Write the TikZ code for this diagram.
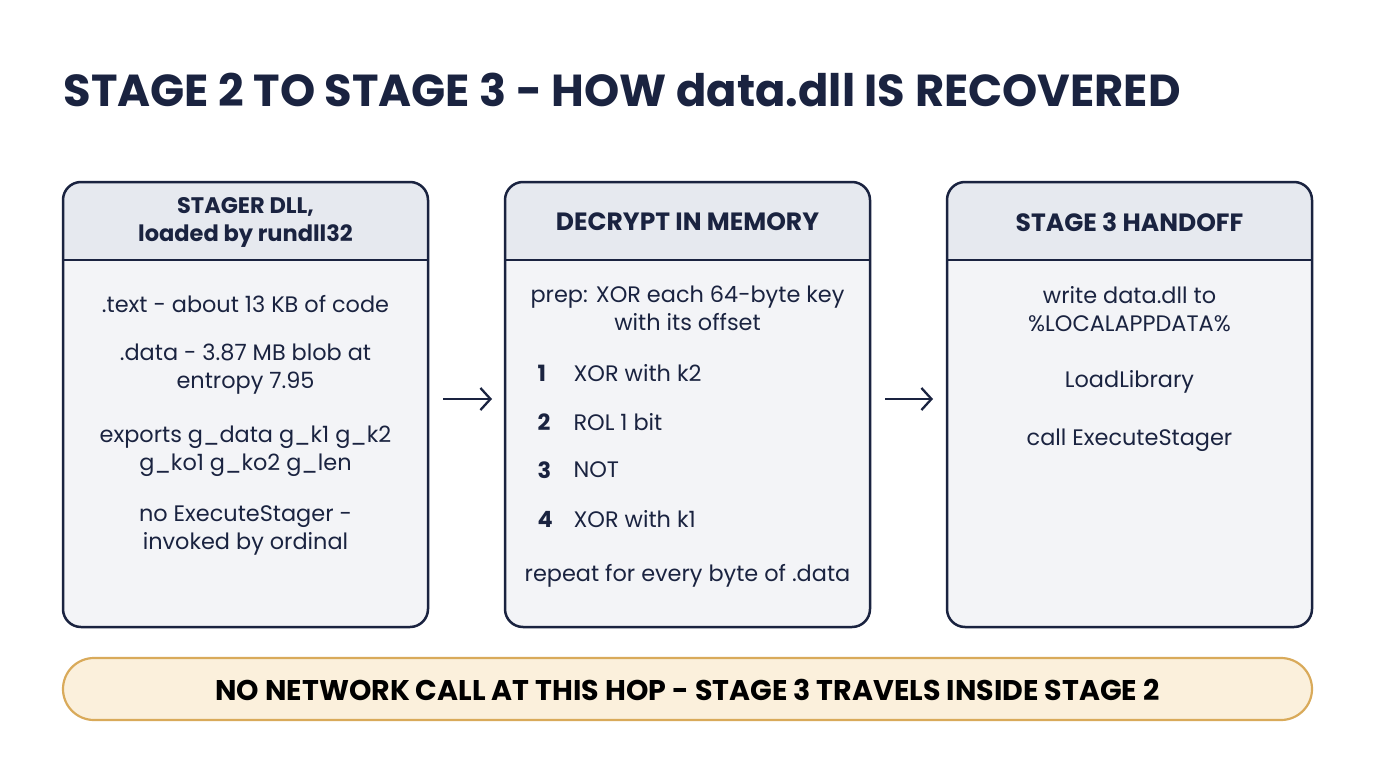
\documentclass[tikz,border=0pt]{standalone}
\usepackage{fontspec}
\setmainfont{Poppins}
\usetikzlibrary{arrows.meta}
\definecolor{navy}{HTML}{1A2340}
\definecolor{hdr}{HTML}{E6E9EF}
\definecolor{bod}{HTML}{F3F4F7}
\definecolor{banf}{HTML}{FBF0DC}
\definecolor{band}{HTML}{D9AA5A}
\begin{document}
\begin{tikzpicture}[x=1pt,y=-1pt,
  box/.style={draw=navy,line width=2.5pt,rounded corners=18pt},
  htxt/.style={font=\fontsize{25}{26}\selectfont\bfseries,text=navy,align=center},
  btxt/.style={font=\fontsize{22.4}{28}\selectfont,text=navy,align=center},
  num/.style={font=\fontsize{22.4}{28}\selectfont\bfseries,text=navy},
  arr/.style={-{Straight Barb[length=10pt,width=22pt]},line width=2.3pt,navy}]
\useasboundingbox (0,0) rectangle (1376,768);
\fill[white] (0,0) rectangle (1376,768);
\node[anchor=west,font=\fontsize{44.8}{48}\selectfont\bfseries,text=navy] (title) at (60,90) {STAGE 2 TO STAGE 3 - HOW data.dll IS RECOVERED};
\foreach \x/\n in {63/a,505/b,947/c}{
  \begin{scope}
  \clip[rounded corners=18pt] (\x,182) rectangle (\x+365,627);
  \fill[bod] (\x,182) rectangle (\x+365,627);
  \fill[hdr] (\x,182) rectangle (\x+365,260);
  \end{scope}
  \draw[navy,line width=2.5pt] (\x,260) -- (\x+365,260);
  \draw[box] (\x,182) rectangle (\x+365,627);
  \coordinate (\n) at (\x+182.5,0);
}
\node[htxt,font=\fontsize{22.5}{28}\selectfont\bfseries] (h1) at (245.5,222) {STAGER DLL,\\loaded by rundll32};
\node[htxt] (h2) at (687.5,222) {\fontsize{25}{26}\selectfont DECRYPT IN MEMORY};
\node[htxt] (h3) at (1129.5,222) {\fontsize{25}{26}\selectfont STAGE 3 HANDOFF};
\node[btxt] (t1) at (245.5,304) {.text - about 13 KB of code};
\node[btxt] (t2) at (245.5,369) {.data - 3.87 MB blob at\\entropy 7.95};
\node[btxt] (t3) at (245.5,451) {exports g\_data g\_k1 g\_k2\\g\_ko1 g\_ko2 g\_len};
\node[btxt] (t4) at (245.5,530) {no ExecuteStager -\\invoked by ordinal};
\node[btxt] (d0) at (687.5,308) {prep: XOR each 64-byte key\\with its offset};
\foreach \i/\t/\y in {1/XOR with k2/373,2/ROL 1 bit/422,3/NOT/470,4/XOR with k1/519}{
  \node[num,anchor=west] (n\i) at (534,\y) {\i};
  \node[btxt,anchor=west] (s\i) at (570,\y) {\t};
}
\node[btxt] (d5) at (687.5,576) {repeat for every byte of .data};
\node[btxt] (e1) at (1129.5,309) {write data.dll to\\\%LOCALAPPDATA\%};
\node[btxt] (e2) at (1129.5,382) {LoadLibrary};
\node[btxt] (e3) at (1129.5,440) {call ExecuteStager};
\coordinate (a1) at (443,399); \coordinate (a2) at (492,399);
\coordinate (b1) at (885,399); \coordinate (b2) at (933,399);
\draw[arr] (a1) -- (a2);
\draw[arr] (b1) -- (b2);
\draw[draw=band,fill=banf,line width=2.2pt,rounded corners=31pt] (63,658) rectangle (1312,720);
\node[font=\fontsize{28.5}{30}\selectfont\bfseries,text=black] (ban) at (687.5,690) {NO NETWORK CALL AT THIS HOP - STAGE 3 TRAVELS INSIDE STAGE 2};
\end{tikzpicture}
\end{document}
